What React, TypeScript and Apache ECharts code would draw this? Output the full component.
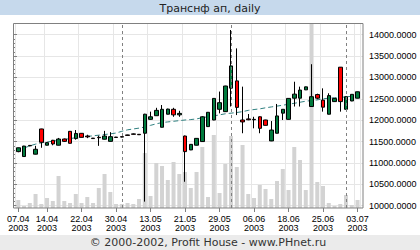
import React, { useEffect, useRef } from "react";
import * as echarts from "echarts";

const dates = [
  "07.04.2003", "08.04.2003", "09.04.2003", "10.04.2003", "11.04.2003",
  "14.04.2003", "15.04.2003", "16.04.2003", "17.04.2003", "18.04.2003",
  "21.04.2003", "22.04.2003", "23.04.2003", "24.04.2003", "25.04.2003",
  "28.04.2003", "29.04.2003", "30.04.2003",
  "05.05.2003", "06.05.2003", "07.05.2003", "08.05.2003", "12.05.2003",
  "13.05.2003", "14.05.2003", "15.05.2003", "16.05.2003", "19.05.2003",
  "20.05.2003", "21.05.2003", "22.05.2003", "23.05.2003", "26.05.2003",
  "27.05.2003", "28.05.2003", "29.05.2003", "30.05.2003",
  "02.06.2003", "03.06.2003", "04.06.2003", "05.06.2003", "06.06.2003",
  "09.06.2003", "10.06.2003", "11.06.2003", "16.06.2003", "17.06.2003",
  "18.06.2003", "19.06.2003", "20.06.2003", "21.06.2003", "23.06.2003",
  "24.06.2003", "25.06.2003", "26.06.2003", "27.06.2003", "30.06.2003",
  "01.07.2003", "02.07.2003", "03.07.2003",
];

const opens = [
  11265, 11150, 11400, 11205, 11795, 11415, 11530, 11415, 11560, 11740,
  11570, 11693, 11630, 11580, 11600, 11555, 11505, 11605, 11615, 11655,
  11680, 11670, 11695, 12020, 12105, 11835, 12140, 12255, 12125, 11630,
  11305, 11415, 11500, 11850, 12005, 12255, 12200, 12750, 12920, 12005,
  12030, 12010, 12080, 12005, 11515, 11695, 12165, 12020, 12515, 12515,
  12710, 12320, 12600, 12470, 12140, 12435, 13240, 12255, 12450, 12515,
];
const closes = [
  11355, 11395, 11410, 11320, 11485, 11475, 11445, 11560, 11505, 11460,
  11690, 11600, 11610, 11570, 11590, 11630, 11615, 11595, 11605, 11645,
  11670, 11660, 12140, 12080, 12230, 12255, 12260, 12125, 12160, 11265,
  11435, 11575, 12080, 12185, 12510, 12410, 12800, 13270, 12300, 11960,
  12010, 12020, 11810, 11880, 11770, 12100, 12255, 12510, 12610, 12705,
  12780, 12550, 12515, 12305, 12575, 12510, 12435, 12550, 12605, 12665,
];
const lows = [
  11250, 11145, 11390, 11200, 11355, 11410, 11413, 11410, 11490, 11455,
  11545, 11595, 11580, 11565, 11400, 11550, 11500, 11590, 11600, 11640,
  11665, 11655, 10095, 12010, 12100, 11830, 12135, 12080, 12080, 10560,
  11300, 11410, 11495, 11845, 12000, 12160, 12195, 12320, 12120, 11695,
  12000, 11810, 11695, 11875, 11510, 11690, 12005, 12015, 12320, 12320,
  12705, 12310, 12490, 12200, 12135, 12430, 12200, 12250, 12445, 12510,
];
const highs = [
  11360, 11400, 11420, 11400, 11800, 11490, 11540, 11585, 11570, 11745,
  11770, 11700, 11660, 11585, 11640, 11750, 11720, 11610, 11620, 11660,
  11690, 11675, 12150, 12200, 12290, 12355, 12270, 12290, 12220, 11640,
  11440, 11580, 12095, 12190, 12515, 12670, 12805, 14110, 13680, 12785,
  12145, 12080, 12090, 12010, 11980, 12380, 12260, 12515, 12900, 12785,
  12785, 13310, 12620, 12745, 12630, 12515, 13245, 12560, 12610, 12670,
];
const volumes = [
  8, 2, 5, 14, 4, 10, 7, 32, 7, 5,
  14, 5, 11, 5, 20, 34, 16, 4, 4, 5,
  4, 9, 55, 12, 45, 42, 28, 46, 34, 36,
  20, 36, 61, 11, 73, 15, 44, 72, 41, 63,
  14, 10, 23, 19, 9, 27, 39, 18, 61, 48,
  18, 185, 26, 22, 5, 2, 4, 13, 3, 8,
];
const average = [
  null, 11350, 11400, 11440, 11470, 11490, 11510, 11530, 11550, 11570,
  11590, 11605, 11620, 11635, 11650, 11665, 11680, 11700, 11740, 11775,
  11795, 11815, 11840, 11880, 11915, 11945, 11960, 11975, 11990, 12005,
  12015, 12030, 12060, 12080, 12100, 12125, 12150, 12165, 12180, 12200,
  12230, 12250, 12265, 12290, 12310, 12330, 12350, 12375, 12395, 12420,
  12445, 12460, 12475, 12500, 12515, 12525, 12535, 12545, 12560, 12570,
];
const labelIdx = [0, 5, 11, 17, 23, 29, 35, 41, 47, 53, 59];
const monthStartIdx = [18, 37, 57];
const priceMin = 10000;
const priceMax = 14000;
const priceStep = 500;

const titleText = "Транснф ап, daily";
const footerText = "© 2000-2002, Profit House - www.PHnet.ru";

export default function App() {
  const ref = useRef<HTMLDivElement>(null);
  useEffect(() => {
    if (!ref.current) return;
    const chart = echarts.init(ref.current, undefined, { renderer: "svg" });
    const showLabel = (i: number) => labelIdx.includes(i);
    const candleData = dates.map((_, i) => [opens[i], closes[i], lows[i], highs[i]]);
    chart.setOption({
      animation: false,
      backgroundColor: "#ffffff",
      grid: [
        { left: 15.43, right: 59.6, top: 23, bottom: 42 },
        { left: 13, right: 57, top: 34.7, bottom: 44.3 },
      ],
      xAxis: [
        {
          type: "category",
          gridIndex: 0,
          data: dates,
          boundaryGap: true,
          axisLine: { show: false },
          axisTick: {
            show: true,
            alignWithLabel: true,
            interval: (i: number) => showLabel(i),
            length: 4,
            lineStyle: { color: "#808080" },
          },
          axisLabel: {
            interval: (i: number) => showLabel(i),
            formatter: (v: string) => v.slice(0, 5) + "\n" + v.slice(6),
            fontFamily: "Liberation Sans",
            fontSize: 9,
            lineHeight: 9,
            color: "#000",
            margin: 6,
          },
          splitLine: {
            show: true,
            interval: (i: number) => showLabel(i),
            lineStyle: { color: "#e6e6e6", width: 1 },
          },
        },
        { type: "value", gridIndex: 1, show: false, min: 0, max: 1 },
      ],
      yAxis: [
        { type: "value", gridIndex: 0, show: false, min: 9946, max: 14274 },
        { type: "value", gridIndex: 0, show: false, min: 0, max: 185 },
        {
          type: "value",
          gridIndex: 1,
          position: "right",
          min: priceMin,
          max: priceMax,
          interval: priceStep,
          axisLine: { show: false },
          axisTick: { show: true, length: 4, lineStyle: { color: "#808080" } },
          minorTick: { show: true, splitNumber: 5, length: 2, lineStyle: { color: "#808080" } },
          axisLabel: {
            formatter: (v: number) => v.toFixed(4),
            fontFamily: "Liberation Sans",
            fontSize: 9,
            color: "#000",
            margin: 6,
          },
          splitLine: { show: true, lineStyle: { color: "#e6e6e6", width: 1 } },
        },
      ],
      graphic: [
        { type: "rect", z: -10, shape: { x: 0, y: 0, width: 420, height: 15 }, style: { fill: "#c6d9ec" } },
        {
          type: "text", z: 10, x: 210, y: 8,
          style: { text: titleText, fill: "#222", font: "11px 'DejaVu Sans'", textAlign: "center", textVerticalAlign: "middle" },
        },
        { type: "rect", z: -10, shape: { x: 0, y: 235, width: 420, height: 15 }, style: { fill: "#ebebeb" } },
        {
          type: "text", z: 10, x: 208, y: 242.5,
          style: { text: footerText, fill: "#333", font: "11px 'DejaVu Sans'", textAlign: "center", textVerticalAlign: "middle" },
        },
        {
          type: "rect", z: 100, silent: true,
          shape: { x: 13.5, y: 23.5, width: 349.5, height: 184.5 },
          style: { fill: "none", stroke: "#808080", lineWidth: 1 },
        },
      ],
      series: [
        {
          type: "bar",
          name: "volume",
          xAxisIndex: 0,
          yAxisIndex: 1,
          data: volumes,
          barWidth: 4,
          itemStyle: { color: "#d3d3d3" },
          z: 1,
          markLine: {
            silent: true,
            symbol: "none",
            label: { show: false },
            lineStyle: { color: "#808080", type: [3, 3], width: 1 },
            data: monthStartIdx.map((i) => ({ xAxis: dates[i] })),
          },
        },
        {
          type: "line",
          name: "average",
          xAxisIndex: 0,
          yAxisIndex: 0,
          data: average,
          symbol: "none",
          lineStyle: { color: "#2f8080", width: 1, type: [5, 3] },
          z: 3,
        },
        {
          type: "candlestick",
          name: "price",
          xAxisIndex: 0,
          yAxisIndex: 0,
          data: candleData,
          barWidth: 4,
          itemStyle: {
            color: "#007a3d",
            color0: "#ff0000",
            borderColor: "#000",
            borderColor0: "#000",
            borderColorDoji: "#000",
            borderWidth: 1,
          },
          z: 4,
        },
      ],
    });
    return () => chart.dispose();
  }, []);
  return (
    <div style={{ position: "fixed", left: 0, top: 0, width: 420, height: 250, background: "#fff" }}>
      <div ref={ref} style={{ width: 420, height: 250 }} />
    </div>
  );
}
